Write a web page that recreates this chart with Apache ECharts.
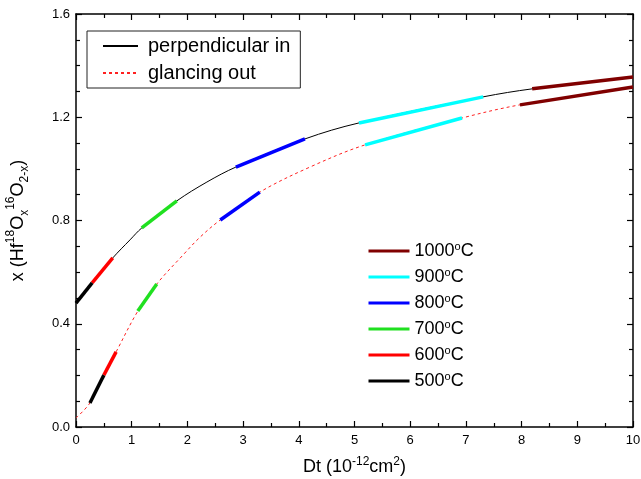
<!DOCTYPE html>
<html>
<head>
<meta charset="utf-8">
<script src="https://cdn.jsdelivr.net/npm/echarts@6/dist/echarts.min.js"></script>
<style>
  html, body { margin: 0; padding: 0; background: #fff; }
  #chart { width: 641px; height: 479px; }
</style>
</head>
<body>
<div id="chart"></div>
<script>
// curves: Dt (1e-12 cm^2) vs x
var perpDt = [0, 0.29, 0.66, 0.97, 1.18, 1.81, 2.35, 2.87, 4.11, 5.08, 7.31, 8.19, 10];
var perpX = [0.480, 0.558, 0.655, 0.725, 0.771, 0.876, 0.949, 1.007, 1.116, 1.178, 1.279, 1.310, 1.356];

var glanceDt = [0, 0.25, 0.50, 0.72, 1.11, 1.45, 1.92, 2.23, 2.59, 3.30, 4.20, 5.19, 6.93, 7.97, 10];
var glanceX = [0.035, 0.093, 0.201, 0.291, 0.449, 0.554, 0.666, 0.736, 0.802, 0.910, 1.007, 1.093, 1.197, 1.248, 1.317];

// annealing temperatures and the Dt range each covers on both curves
var temps = ['1000°C', '900°C', '800°C', '700°C', '600°C', '500°C'];
var tempColors = ['#800000', '#00ffff', '#0000ff', '#20e020', '#ff0000', '#000000'];
var perpRanges = [[8.19, 10], [5.08, 7.31], [2.87, 4.11], [1.18, 1.81], [0.29, 0.66], [0, 0.29]];
var glanceRanges = [[7.97, 10], [5.19, 6.93], [2.59, 3.30], [1.11, 1.45], [0.50, 0.72], [0.25, 0.50]];

var xTicks = [0, 1, 2, 3, 4, 5, 6, 7, 8, 9, 10];

var font = 'Liberation Sans';
var smoothness = 0.35;

function pairs(xs, ys) {
	return xs.map(function(v, i) { return [v, ys[i]]; });
}
function piece(xs, ys, r) {
	return pairs(xs, ys).filter(function(p) { return p[0] >= r[0] - 1e-9 && p[0] <= r[1] + 1e-9; });
}

var series = [{
	name: 'perpendicular in',
	type: 'line',
	data: pairs(perpDt, perpX),
	smooth: smoothness,
	symbol: 'none',
	z: 2,
	lineStyle: { color: '#000', width: 1 },
	itemStyle: { color: '#000' }
}, {
	name: 'glancing out',
	type: 'line',
	data: pairs(glanceDt, glanceX),
	smooth: smoothness,
	symbol: 'none',
	z: 2,
	lineStyle: { color: '#ff2020', width: 1, type: [3, 3] },
	itemStyle: { color: '#ff2020' }
}];

temps.forEach(function(t, i) {
	[piece(perpDt, perpX, perpRanges[i]), piece(glanceDt, glanceX, glanceRanges[i])].forEach(function(d) {
		series.push({
			name: t,
			type: 'line',
			data: d,
			smooth: smoothness,
			symbol: 'none',
			z: 3,
			lineStyle: { color: tempColors[i], width: 3.5, cap: 'butt' },
			itemStyle: { color: tempColors[i] }
		});
	});
});

var axisCommon = {
	axisLine: { show: true, onZero: false, lineStyle: { color: '#000', width: 1.5 } },
	axisTick: { show: true, inside: true, length: 6, lineStyle: { color: '#000', width: 1.2 } },
	splitLine: { show: false }
};
function minor(n) {
	return { show: true, splitNumber: n, length: 4, lineStyle: { color: '#000', width: 1.2 } };
}
var supStyle = { fontFamily: font, fontSize: 12, lineHeight: 12, verticalAlign: 'top', color: '#000' };
var subStyle = { fontFamily: font, fontSize: 12, lineHeight: 12, verticalAlign: 'bottom', color: '#000' };

var myChart = echarts.init(document.getElementById('chart'));
var option = {
	animation: false,
	textStyle: { fontFamily: font },
	grid: { left: 76, right: 8, top: 14, bottom: 52, outerBoundsMode: 'none' },
	legend: [{
		data: ['perpendicular in', 'glancing out'],
		orient: 'vertical',
		left: 87,
		top: 31,
		padding: [5, 10, 5, 15],
		itemWidth: 35,
		itemHeight: 14,
		itemGap: 7,
		borderColor: '#222',
		borderWidth: 1,
		selectedMode: false,
		itemStyle: { opacity: 0 },
		textStyle: { fontFamily: font, fontSize: 20, lineHeight: 20, color: '#000', padding: [0, 0, 0, 5] }
	}, {
		data: temps,
		orient: 'vertical',
		left: 362,
		top: 236,
		padding: 5,
		itemWidth: 41,
		itemHeight: 14,
		itemGap: 6,
		selectedMode: false,
		itemStyle: { opacity: 0 },
		lineStyle: { width: 3 },
		formatter: function(name) { return name.replace('°C', '{sup|o}C'); },
		textStyle: {
			fontFamily: font, fontSize: 18, lineHeight: 20, color: '#000',
			rich: { sup: { fontFamily: font, fontSize: 11, lineHeight: 11, verticalAlign: 'top', color: '#000' } }
		}
	}],
	xAxis: [Object.assign({
		type: 'value',
		position: 'bottom',
		min: 0,
		max: 10,
		interval: 1,
		axisLabel: {
			margin: 7, color: '#000', fontSize: 13, fontFamily: font,
			formatter: function(v) { return xTicks.indexOf(v) >= 0 ? String(v) : ''; }
		},
		name: 'Dt (10{sup|-12}cm{sup|2})',
		nameLocation: 'middle',
		nameGap: 29,
		nameTextStyle: {
			fontFamily: font, fontSize: 18, lineHeight: 22, color: '#000',
			rich: { sup: supStyle }
		}
	}, axisCommon, { minorTick: minor(2) }), Object.assign({
		type: 'value',
		position: 'top',
		min: 0,
		max: 10,
		interval: 1,
		axisLabel: { show: false }
	}, axisCommon, { minorTick: minor(2) })],
	yAxis: [Object.assign({
		type: 'value',
		position: 'left',
		min: 0,
		max: 1.6,
		interval: 0.4,
		axisLabel: {
			margin: 6, color: '#000', fontSize: 13, fontFamily: font,
			formatter: function(v) { return v.toFixed(1); }
		},
		name: 'x (Hf{sup|18}O{sub|x}{sup|16}O{sub|2-x})',
		nameLocation: 'middle',
		nameGap: 45,
		nameRotate: 90,
		nameTextStyle: {
			fontFamily: font, fontSize: 18, lineHeight: 26, color: '#000',
			rich: { sup: supStyle, sub: subStyle }
		}
	}, axisCommon, { minorTick: minor(4) }), Object.assign({
		type: 'value',
		position: 'right',
		min: 0,
		max: 1.6,
		interval: 0.4,
		axisLabel: { show: false }
	}, axisCommon, { minorTick: minor(4) })],
	series: series
};
myChart.setOption(option);
</script>
</body>
</html>
